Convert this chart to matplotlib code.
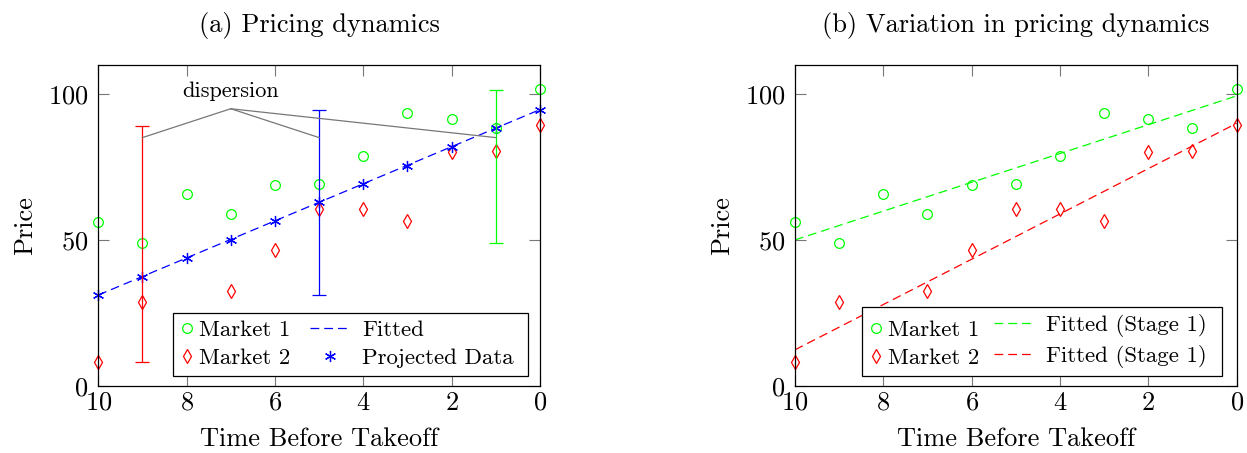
import matplotlib
matplotlib.use("Agg")
import matplotlib.pyplot as plt
from matplotlib.patches import Rectangle
from matplotlib.transforms import Bbox

plt.rcParams['font.family'] = ['cmr10', 'DejaVu Serif']
plt.rcParams['mathtext.fontset'] = 'cm'
plt.rcParams['axes.formatter.use_mathtext'] = True

# ---- data ----
time = [10, 9, 8, 7, 6, 5, 4, 3, 2, 1, 0]
market1 = [56.1, 48.9, 65.7, 58.8, 69.0, 69.1, 78.8, 93.6, 91.4, 88.3, 101.6]
time2 = [10, 9, 7, 6, 5, 4, 3, 2, 1, 0]
market2 = [8.2, 28.6, 32.5, 46.7, 60.5, 60.7, 56.4, 80.2, 80.6, 89.5]
projected = [31.1, 37.4, 43.8, 50.1, 56.5, 62.9, 69.2, 75.5, 81.9, 88.3, 94.7]
fit_x = [10, 0]
fit_proj = [31.1, 94.7]
fit_m1 = [50.0, 99.4]
fit_m2 = [12.3, 90.0]

# dispersion bars
disp_x = [9, 5, 1]
disp_low = [8.2, 31.1, 49.0]
disp_high = [89.2, 94.7, 101.5]
disp_col = ['red', 'blue', '#00ff00']
disp_apex = (7, 95.0)
disp_end_y = 85.1

xticks = [10, 8, 6, 4, 2, 0]
yticks = [0, 50, 100]

GREEN = '#00ff00'
FS = 19
LFS = 16.5
DASH = (0, (7, 4))
fig = plt.figure(figsize=(12.47, 4.53), dpi=100)
axL = fig.add_axes([0.0788, 0.1486, 0.3542, 0.7079])
axR = fig.add_axes([0.6375, 0.1486, 0.3542, 0.7079])

asterisk = (6, 2, 0)

def style(ax, title):
    ax.set_xlim(10, 0)
    ax.set_ylim(0, 110)
    ax.set_xticks(xticks)
    ax.set_yticks(yticks)
    ax.tick_params(direction='in', length=8, width=0.8, color='#777777',
                   labelsize=FS, top=True, right=True)
    ax.tick_params(axis='y', pad=7)
    ax.tick_params(axis='x', pad=4)
    ax.set_xlabel('Time Before Takeoff', fontsize=FS, labelpad=9)
    ax.set_ylabel('Price', fontsize=FS, labelpad=8)
    ax.set_title(title, fontsize=FS, pad=24)
    for s in ax.spines.values():
        s.set_linewidth(0.9)

mk = dict(linestyle='none', mfc='none', mew=0.9, clip_on=False)

# ---- left ----
h1, = axL.plot(time, market1, marker='o', mec=GREEN, ms=7, label='Market 1', **mk)
h2, = axL.plot(time2, market2, marker='d', mec='red', ms=7, label='Market 2', **mk)
h3, = axL.plot(fit_x, fit_proj, linestyle=DASH, color='blue', lw=0.9, label='Fitted')
h4, = axL.plot(time, projected, linestyle='none', marker=asterisk, color='blue',
               ms=8, mew=0.9, clip_on=False, label='Projected Data')
for x, lo, hi, c in zip(disp_x, disp_low, disp_high, disp_col):
    axL.errorbar([x], [(lo + hi) / 2], yerr=[[(hi - lo) / 2], [(hi - lo) / 2]],
                 fmt='none', ecolor=c, elinewidth=0.9, capsize=5, capthick=0.9)
    axL.plot([disp_apex[0], x], [disp_apex[1], disp_end_y], color='#777777', lw=0.9)
axL.text(disp_apex[0], 97.5, 'dispersion', ha='center', va='bottom', fontsize=16,
         family=['cmr10', 'DejaVu Serif'])
style(axL, '(a) Pricing dynamics')

# ---- right ----
g1, = axR.plot(time, market1, marker='o', mec=GREEN, ms=7, label='Market 1', **mk)
g2, = axR.plot(time2, market2, marker='d', mec='red', ms=7, label='Market 2', **mk)
g3, = axR.plot(fit_x, fit_m1, linestyle=DASH, color=GREEN, lw=0.9,
               label='Fitted (Stage 1)')
g4, = axR.plot(fit_x, fit_m2, linestyle=DASH, color='red', lw=0.9,
               label='Fitted (Stage 1)')
style(axR, '(b) Variation in pricing dynamics')

common = dict(loc='lower right', fontsize=LFS, frameon=False, borderpad=0,
              labelspacing=0.35, borderaxespad=0)

def framed_legend(ax, marks, lines, xa, xb, yb):
    la = ax.legend(handles=marks, bbox_to_anchor=(xa, yb), handlelength=0.55,
                   handletextpad=0.25, **common)
    ax.add_artist(la)
    lb = ax.legend(handles=lines, bbox_to_anchor=(xb, yb), handlelength=1.79,
                   handletextpad=0.5, **common)
    la.set_zorder(6)
    lb.set_zorder(6)
    return la, lb

legs = [framed_legend(axL, [h1, h2], [h3, h4], 0.434, 0.941, 0.055),
        framed_legend(axR, [g1, g2], [g3, g4], 0.4166, 0.9334, 0.055)]

fig.canvas.draw()
r = fig.canvas.get_renderer()
for ax, (la, lb) in zip([axL, axR], legs):
    bb = Bbox.union([la.get_window_extent(r), lb.get_window_extent(r)])
    bb = Bbox.from_extents(bb.x0 - 7.5, bb.y0 - 8, bb.x1 + 14.5, bb.y1 + 7)
    bb_ax = bb.transformed(ax.transAxes.inverted())
    ax.add_patch(Rectangle((bb_ax.x0, bb_ax.y0), bb_ax.width, bb_ax.height,
                           transform=ax.transAxes, facecolor='white',
                           edgecolor='black', lw=0.9, zorder=5.5, clip_on=False))

fig.savefig('out.png', dpi=100)
